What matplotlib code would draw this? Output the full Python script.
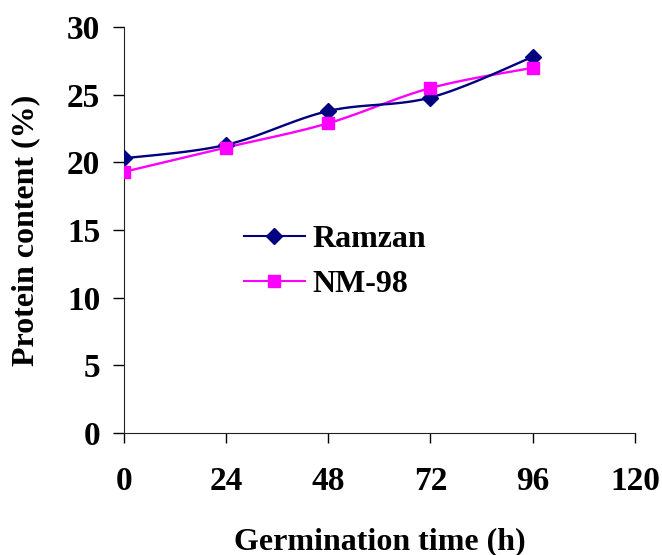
import numpy as np
import matplotlib.pyplot as plt
from matplotlib.lines import Line2D

hours = [0, 24, 48, 72, 96]
ramzan = [20.3, 21.3, 23.8, 24.8, 27.8]
nm98 = [19.3, 21.1, 22.9, 25.5, 27.0]
series_names = ["Ramzan", "NM-98"]
x_ticks = [0, 24, 48, 72, 96, 120]
y_ticks = [0, 5, 10, 15, 20, 25, 30]


def smooth(x, y, n=30):
    # Bezier smoothing between points, control points from neighbour slopes
    x = np.asarray(x, float)
    y = np.asarray(y, float)
    px = np.concatenate([[x[0]], x, [x[-1]]])
    py = np.concatenate([[y[0]], y, [y[-1]]])
    xs, ys = [], []
    t = np.linspace(0, 1, n)
    for i in range(1, len(px) - 2):
        p0 = np.array([px[i], py[i]])
        p3 = np.array([px[i + 1], py[i + 1]])
        c1 = p0 + (np.array([px[i + 1], py[i + 1]]) - np.array([px[i - 1], py[i - 1]])) / 6
        c2 = p3 - (np.array([px[i + 2], py[i + 2]]) - np.array([px[i], py[i]])) / 6
        b = ((1 - t) ** 3)[:, None] * p0 + (3 * (1 - t) ** 2 * t)[:, None] * c1 \
            + (3 * (1 - t) * t ** 2)[:, None] * c2 + (t ** 3)[:, None] * p3
        xs.extend(b[:, 0])
        ys.extend(b[:, 1])
    return xs, ys


plt.rcParams["font.family"] = "Liberation Serif"
plt.rcParams["font.weight"] = "bold"

fig = plt.figure(figsize=(6.62, 5.55), dpi=100)
ax = fig.add_axes([0.187, 0.22, 0.772, 0.731])

blue = "#000080"
pink = "#FF00FF"

sx, sy = smooth(hours, ramzan)
ax.plot(sx, sy, color=blue, lw=1.7, zorder=3)
ax.plot(hours, ramzan, ls="none", marker="D", ms=8, color=blue, zorder=4)
sx, sy = smooth(hours, nm98)
ax.plot(sx, sy, color=pink, lw=1.7, zorder=2)
ax.plot(hours, nm98, ls="none", marker="s", ms=8.5, color=pink, zorder=4)

ax.set_xlim(0, 120)
ax.set_ylim(0, 30)
ax.set_xticks(x_ticks)
ax.set_yticks(y_ticks)
ax.tick_params(axis="x", direction="out", length=7.5, width=1, pad=16, labelsize=24)
ax.tick_params(axis="y", direction="out", length=8, width=1, pad=9, labelsize=24)
for lab in ax.get_xticklabels() + ax.get_yticklabels():
    lab.set_fontweight("bold")
ax.spines["top"].set_visible(False)
ax.spines["right"].set_visible(False)
ax.spines["left"].set_color("#222222")
ax.spines["bottom"].set_color("#222222")

ax.set_xlabel("Germination time (h)", fontsize=23, fontweight="bold", labelpad=22)
ax.set_ylabel("Protein content (%)", fontsize=23, fontweight="bold", labelpad=19)

handles = [
    Line2D([], [], color=blue, lw=1.5, marker="D", ms=8),
    Line2D([], [], color=pink, lw=1.5, marker="s", ms=8.5),
]
ax.legend(handles, series_names, loc="upper left", bbox_to_anchor=(0.204, 0.553),
          frameon=False, prop={"size": 23, "weight": "bold"},
          handlelength=1.9, handletextpad=0.25, labelspacing=0.5, borderpad=0)

fig.savefig("out.png", dpi=100)
